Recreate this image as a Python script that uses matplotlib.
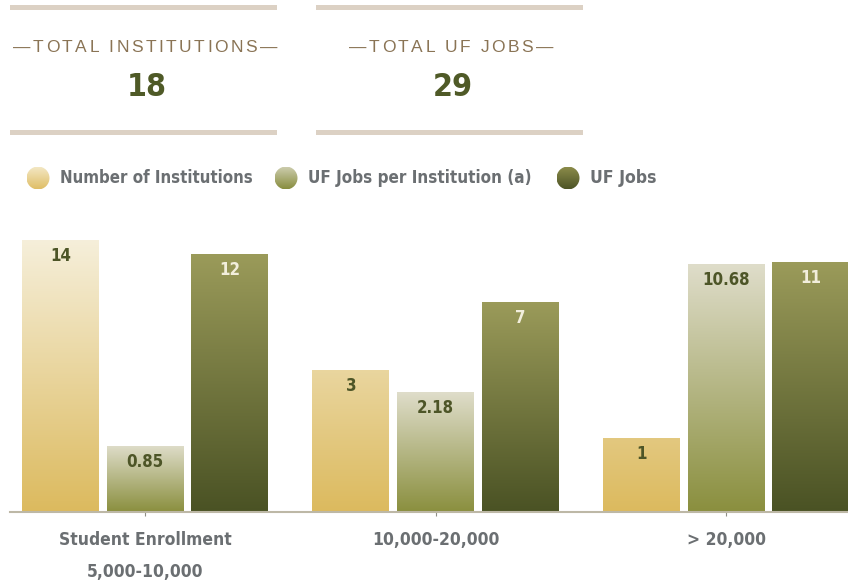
import numpy as np
import matplotlib
matplotlib.use("Agg")
import matplotlib.pyplot as plt
from matplotlib.colors import LinearSegmentedColormap
from matplotlib.patches import Rectangle, Circle
from matplotlib.font_manager import FontProperties, fontManager

# data
groups = ["Student Enrollment\n5,000-10,000", "10,000-20,000", "> 20,000"]
series_names = ["Number of Institutions", "UF Jobs per Institution (a)", "UF Jobs"]
institutions = [14, 3, 1]
jobs_per_inst = [0.85, 2.18, 10.68]
uf_jobs = [12, 7, 11]
summary_titles = ["TOTAL INSTITUTIONS", "TOTAL UF JOBS"]
summary_values = ["18", "29"]

W, H = 848, 588
PLAIN = ['Liberation Sans', 'DejaVu Sans']


def find_narrow_bold():
    # look for a condensed / narrow bold sans face, else fall back to Roboto bold
    best = None
    for f in fontManager.ttflist:
        name = f.name.lower()
        if 'serif' in name or 'mono' in name:
            continue
        narrow = ('narrow' in name or 'condensed' in name
                  or f.stretch in ('condensed', 'semi-condensed', 'extra-condensed'))
        if narrow and f.weight in (600, 700, 'bold', 'semibold') and f.style == 'normal':
            best = f
            break
    if best is not None:
        return lambda size: FontProperties(fname=best.fname, size=size)
    return lambda size: FontProperties(family=['Roboto', 'DejaVu Sans'],
                                       weight='bold', size=size)


narrow_font = find_narrow_bold()

# (bottom colour, top colour, label colour, gradient over whole axis?)
styles = [
    ('#dcba5e', '#f8f4e6', '#4d5527', True),
    ('#8a8f3e', '#dfddca', '#4d5527', False),
    ('#4a5224', '#9b9b5a', '#f2eedc', False),
]
legend_cols = [('#dfbe66', '#f4e9c8'), ('#888d3e', '#cfcfb2'), ('#4d5426', '#8e8e4c')]


def fx(px):
    return px / W


def fy(py):
    return 1 - py / H


def grad_cmap(c0, c1):
    return LinearSegmentedColormap.from_list('g', [c0, c1])


GRAD = np.linspace(0, 1, 256).reshape(-1, 1)

fig = plt.figure(figsize=(W / 100, H / 100), dpi=100)
renderer = fig.canvas.get_renderer()


def text_width(s, prop):
    return renderer.get_text_width_height_descent(s, prop, ismath=False)[0]


def fitted(s, size, target_px):
    # shrink the narrow font so the text takes about the reference width
    w = text_width(s, narrow_font(size))
    return narrow_font(min(size, size * target_px / w))


def spaced_text(cx, cy, s, track, prop, **kw):
    widths = [text_width(ch, prop) for ch in s]
    total = sum(widths) + track * (len(s) - 1)
    x = cx - total / 2
    for ch, w in zip(s, widths):
        fig.text(fx(x), fy(cy), ch, ha='left', va='center', fontproperties=prop, **kw)
        x += w + track


# header boxes
title_prop = FontProperties(family=PLAIN, size=12.5)
for i, (title, val) in enumerate(zip(summary_titles, summary_values)):
    x0 = 10 + i * 306
    for y in (5, 130):
        fig.add_artist(Rectangle((fx(x0), fy(y + 5)), 267 / W, 5 / H,
                                 transform=fig.transFigure, color='#dcd1c4', lw=0))
    cx = x0 + 134
    spaced_text(cx + 1, 48, "\u2014" + title + "\u2014", 2.5, title_prop, color='#8a7455')
    fig.text(fx(cx + 3), fy(88), val, ha='center', va='center',
             fontproperties=fitted(val, 29, 40), color='#4f5a27')

# legend
leg_x = [38, 286, 568]
leg_w = [192, 222, 66]
r = 11.5
for lx, name, tw, (c0, c1) in zip(leg_x, series_names, leg_w, legend_cols):
    cax = fig.add_axes([fx(lx - r), fy(178 + r), 2 * r / W, 2 * r / H])
    cax.set_axis_off()
    im = cax.imshow(GRAD, cmap=grad_cmap(c0, c1), origin='lower',
                    extent=(0, 1, 0, 1), aspect='auto')
    im.set_clip_path(Circle((0.5, 0.5), 0.5, transform=cax.transData))
    fig.text(fx(lx + 22), fy(178), name, ha='left', va='center',
             fontproperties=fitted(name, 14.5, tw), color='#6b6f72')

# main chart
ax = fig.add_axes([fx(10), fy(512), (W - 10) / W, (512 - 215) / H])
ax.set_yscale('function', functions=(np.log1p, np.expm1))
ybot, ytop = -0.058, 18.3
xlim = (-135 / 290.5, (W - 145) / 290.5)
ax.set_xlim(xlim)
ax.set_ylim(ybot, ytop)

x = np.arange(len(groups))
offsets = [-0.291, 0.0, 0.292]
width = 0.265


def to_axes(px, py):
    return ax.transLimits.transform(ax.transScale.transform((px, py)))


label_prop = fitted("10.68", 14, 48)
for k, vals in enumerate([institutions, jobs_per_inst, uf_jobs]):
    c0, c1, tcol, whole = styles[k]
    vals = np.array(vals)
    bars = ax.bar(x + offsets[k], vals - ybot, width, bottom=ybot,
                  color='none', lw=0)
    for b, v in zip(bars, vals):
        bx0 = b.get_x()
        bx1 = bx0 + b.get_width()
        (ax0, ay0) = to_axes(bx0, ybot)
        (ax1, ay1) = to_axes(bx1, ytop if whole else v)
        im = ax.imshow(GRAD, cmap=grad_cmap(c0, c1), origin='lower',
                       extent=(ax0, ax1, ay0, ay1), transform=ax.transAxes,
                       aspect='auto', interpolation='bilinear')
        im.set_clip_path(b)
        ax.annotate(f"{v:g}", (bx0 + b.get_width() / 2, v), xytext=(0, -11.5),
                    textcoords='offset points', ha='center', va='center',
                    fontproperties=label_prop, color=tcol)

ax.set_xlim(xlim)
ax.set_ylim(ybot, ytop)
ax.set_xticks(x)
tick_prop = narrow_font(12.5)
ax.set_xticklabels(groups, fontproperties=tick_prop,
                   color='#6b6f72', linespacing=1.95, va='top')
ax.tick_params(axis='x', length=3, color='#8f8f86', pad=11)
ax.set_yticks([])
ax.minorticks_off()
for s in ('left', 'right', 'top'):
    ax.spines[s].set_visible(False)
ax.spines['bottom'].set_color('#bdb8a6')
ax.spines['bottom'].set_linewidth(1.5)
ax.patch.set_alpha(0)

fig.savefig('out.png', dpi=100)
